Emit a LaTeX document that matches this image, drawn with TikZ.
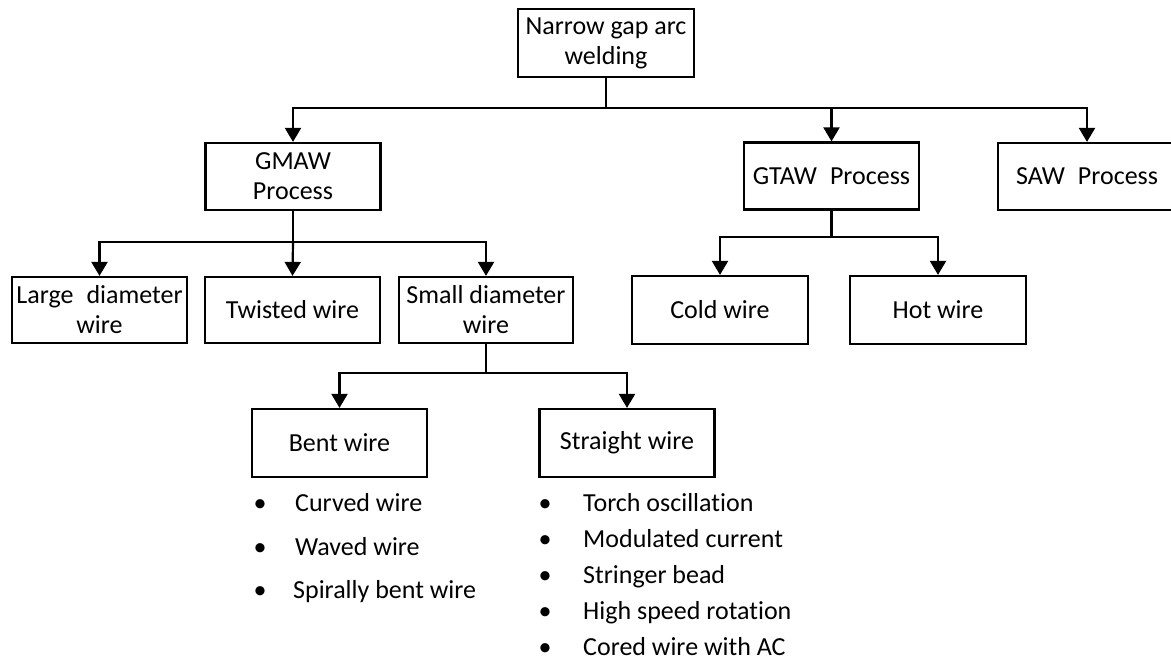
\documentclass[tikz,border=0pt]{standalone}
\usepackage{fontspec}
\setmainfont{Carlito}[Ligatures=NoCommon]
\usetikzlibrary{arrows.meta}
\begin{document}
\begin{tikzpicture}[x=1pt,y=-1pt,
  every node/.style={font=\fontsize{26}{30}\selectfont},
  boxnode/.style={draw,line width=2.2pt,minimum width=175pt,minimum height=67pt,align=center,inner sep=2pt},
  link/.style={line width=2.2pt},
  arr/.style={line width=2.2pt,-{Triangle[length=14pt,width=16pt]}},
  itemtext/.style={anchor=base west,inner sep=0pt},
  dot/.style={anchor=base,inner sep=0pt}]
\useasboundingbox (0,0) rectangle (1171,663);
% boxes
\node[boxnode,minimum width=176pt,minimum height=68pt] (top) at (606,43) {Narrow gap arc\\welding};
\node[boxnode] (gmaw) at (293,176.5) {GMAW\\Process};
\node[boxnode] (gtaw) at (831.5,176) {GTAW\enspace Process};
\node[boxnode,minimum width=178pt] (saw) at (1087,176.5) {SAW\enspace Process};
\node[boxnode,minimum height=66pt] (large) at (99.5,310) {Large\enspace diameter\\wire};
\node[boxnode,minimum height=66pt] (twisted) at (292.5,310) {Twisted wire};
\node[boxnode,minimum height=66pt,minimum width=174pt] (small) at (486,310) {Small diameter\\wire};
\node[boxnode,minimum width=176pt,minimum height=68pt] (cold) at (720,310) {Cold wire};
\node[boxnode,minimum width=176pt,minimum height=68pt] (hot) at (938,310) {Hot wire};
\node[boxnode,minimum height=68pt] (bent) at (339.5,443) {Bent wire};
\node[boxnode,minimum height=68pt] (straight) at (627,443) {Straight wire};
% junctions
\coordinate (j1) at (606,108);
\coordinate (j2) at (293,242);
\coordinate (j3) at (831.5,237);
\coordinate (j4) at (486,373);
\draw[link] (top.south) -- (j1);
\draw[arr] (j1) -| (gmaw.north);
\draw[arr] (j1) -| (gtaw.north);
\draw[arr] (j1) -| (saw.north);
\draw[link] (gmaw.south) -- (j2);
\draw[arr] (j2) -| (large.north);
\draw[arr] (j2) -- (twisted.north);
\draw[arr] (j2) -| (small.north);
\draw[link] (gtaw.south) -- (j3);
\draw[arr] (j3) -| (cold.north);
\draw[arr] (j3) -| (hot.north);
\draw[link] (small.south) -- (j4);
\draw[arr] (j4) -| (bent.north);
\draw[arr] (j4) -| (straight.north);
% bullet lists
\node[dot] (b1) at (260,511) {\textbullet};
\node[itemtext] (t1) at (295,511) {Curved wire};
\node[dot] (b2) at (260,555) {\textbullet};
\node[itemtext] (t2) at (295,555) {Waved wire};
\node[dot] (b3) at (260,598) {\textbullet};
\node[itemtext] (t3) at (293,598) {Spirally bent wire};
\node[dot] (c1) at (545,511) {\textbullet};
\node[itemtext] (s1) at (583,511) {Torch oscillation};
\node[dot] (c2) at (545,547) {\textbullet};
\node[itemtext] (s2) at (583,547) {Modulated current};
\node[dot] (c3) at (545,583) {\textbullet};
\node[itemtext] (s3) at (583,583) {Stringer bead};
\node[dot] (c4) at (545,619) {\textbullet};
\node[itemtext] (s4) at (583,619) {High speed rotation};
\node[dot] (c5) at (545,655) {\textbullet};
\node[itemtext] (s5) at (583,655) {Cored wire with AC};
\end{tikzpicture}
\end{document}
